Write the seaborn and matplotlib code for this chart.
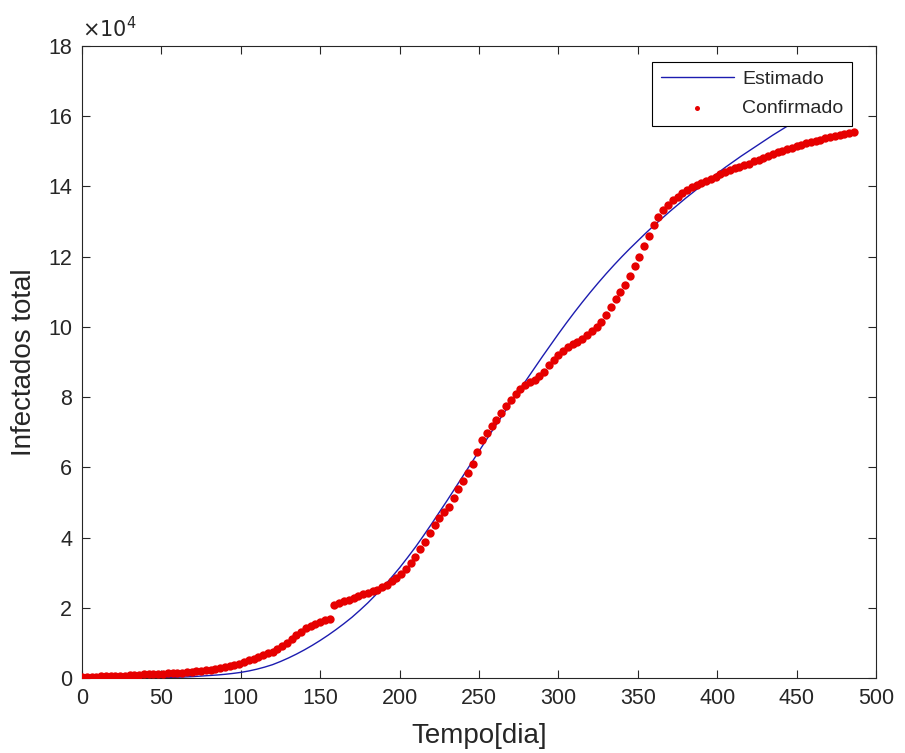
import matplotlib
matplotlib.use("Agg")
import matplotlib.pyplot as plt
import seaborn as sns
import pandas as pd

# curva estimada (unidades de 10^4), um ponto a cada 5 dias
dias_estimado = list(range(0, 486, 5))
estimado = [0.0, 0.0, 0.0, 0.0, 0.0, 0.0, 0.002, 0.003, 0.005, 0.008, 0.012, 0.016,
            0.022, 0.03, 0.04, 0.055, 0.07, 0.085, 0.105, 0.13, 0.16, 0.2, 0.25,
            0.31, 0.38, 0.47, 0.57, 0.68, 0.8, 0.93, 1.07, 1.22, 1.38, 1.55, 1.73,
            1.93, 2.14, 2.37, 2.61, 2.87, 3.14, 3.43, 3.73, 4.05, 4.38, 4.72, 5.06,
            5.41, 5.76, 6.11, 6.46, 6.81, 7.16, 7.5, 7.84, 8.17, 8.5, 8.83, 9.16,
            9.48, 9.8, 10.11, 10.41, 10.7, 10.98, 11.25, 11.51, 11.76, 12.0, 12.23,
            12.45, 12.67, 12.88, 13.08, 13.28, 13.47, 13.66, 13.84, 14.02, 14.2,
            14.37, 14.54, 14.7, 14.86, 15.01, 15.16, 15.31, 15.46, 15.6, 15.74,
            15.88, 16.02, 16.15, 16.28, 16.41, 16.53, 16.65, 16.77]

# casos confirmados (unidades de 10^4), lidos a cada 3 dias
dias_confirmado = list(range(0, 157, 3)) + list(range(159, 487, 3))
confirmado = [
    0.03, 0.03, 0.04, 0.04, 0.05, 0.05, 0.06, 0.06, 0.07, 0.07, 0.08, 0.08,
    0.09, 0.10, 0.10, 0.11, 0.12, 0.12, 0.13, 0.13, 0.14, 0.15, 0.16, 0.17,
    0.19, 0.20, 0.22, 0.24, 0.26, 0.29, 0.31, 0.34, 0.38, 0.41, 0.45, 0.50,
    0.55, 0.60, 0.65, 0.70, 0.75, 0.82, 0.90, 0.99, 1.10, 1.22, 1.32, 1.41,
    1.48, 1.54, 1.60, 1.64, 1.68,
    2.08, 2.13, 2.18, 2.23, 2.28, 2.33, 2.38, 2.42, 2.47, 2.52, 2.58, 2.65,
    2.75, 2.85, 2.97, 3.10, 3.27, 3.45, 3.66, 3.88, 4.12, 4.35, 4.55, 4.72,
    4.88, 5.12, 5.38, 5.6, 5.85, 6.1, 6.45, 6.78, 6.98, 7.18, 7.36, 7.55,
    7.75, 7.92, 8.08, 8.22, 8.33, 8.42, 8.50, 8.60, 8.72, 8.90, 9.07, 9.2,
    9.32, 9.42, 9.5, 9.57, 9.65, 9.77, 9.88, 10.0, 10.15, 10.35, 10.57, 10.78,
    11.0, 11.2, 11.45, 11.72, 12.0, 12.3, 12.6, 12.9, 13.12, 13.33, 13.48,
    13.6, 13.7, 13.8, 13.9, 13.98, 14.05, 14.1, 14.16, 14.22, 14.28, 14.34,
    14.4, 14.46, 14.52, 14.56, 14.6, 14.65, 14.71, 14.76, 14.81, 14.86, 14.92,
    14.97, 15.01, 15.06, 15.1, 15.15, 15.19, 15.23, 15.27, 15.3, 15.33, 15.37,
    15.41, 15.44, 15.47, 15.5, 15.53, 15.56]

df_est = pd.DataFrame({"dia": dias_estimado, "valor": estimado})
df_conf = pd.DataFrame({"dia": dias_confirmado, "valor": confirmado})

sns.set_style("ticks")
plt.rcParams["font.family"] = ["Liberation Sans", "DejaVu Sans"]

fig = plt.figure(figsize=(9.05, 7.53), dpi=100)
ax = fig.add_axes([0.0906, 0.0996, 0.8774, 0.8394])

sns.lineplot(data=df_est, x="dia", y="valor", ax=ax, color="#1c1cb0",
             linewidth=1.0, label="Estimado", zorder=2)
sns.scatterplot(data=df_conf, x="dia", y="valor", ax=ax, color="#e60000",
                s=36, linewidth=0, marker="o", label="Confirmado", zorder=3)

ax.set_xlim(0, 500)
ax.set_ylim(0, 18)
ax.set_xticks(range(0, 501, 50))
ax.set_yticks(range(0, 19, 2))
ax.tick_params(direction="in", top=True, right=True, labelsize=15.5, pad=7,
               length=6, width=0.8, colors="#262626", labelcolor="#262626")
for s in ax.spines.values():
    s.set_visible(True)
    s.set_linewidth(0.8)
    s.set_color("#262626")

ax.set_xlabel("Tempo[dia]", fontsize=20, color="#262626", labelpad=10)
ax.set_ylabel("Infectados total", fontsize=20, color="#262626", labelpad=8)
ax.text(0.0, 1.008, r"$\times10^{4}$", transform=ax.transAxes, fontsize=15,
        color="#262626", ha="left", va="bottom")

leg = ax.legend(loc="upper right", bbox_to_anchor=(0.970, 0.975),
                fontsize=14, frameon=True, fancybox=False,
                edgecolor="black", framealpha=1, handlelength=3.8,
                borderaxespad=0, handletextpad=0.4, borderpad=0.45,
                labelspacing=0.6, markerscale=0.6)
leg.get_frame().set_linewidth(0.8)

plt.savefig("out.png", dpi=100)
plt.close()
